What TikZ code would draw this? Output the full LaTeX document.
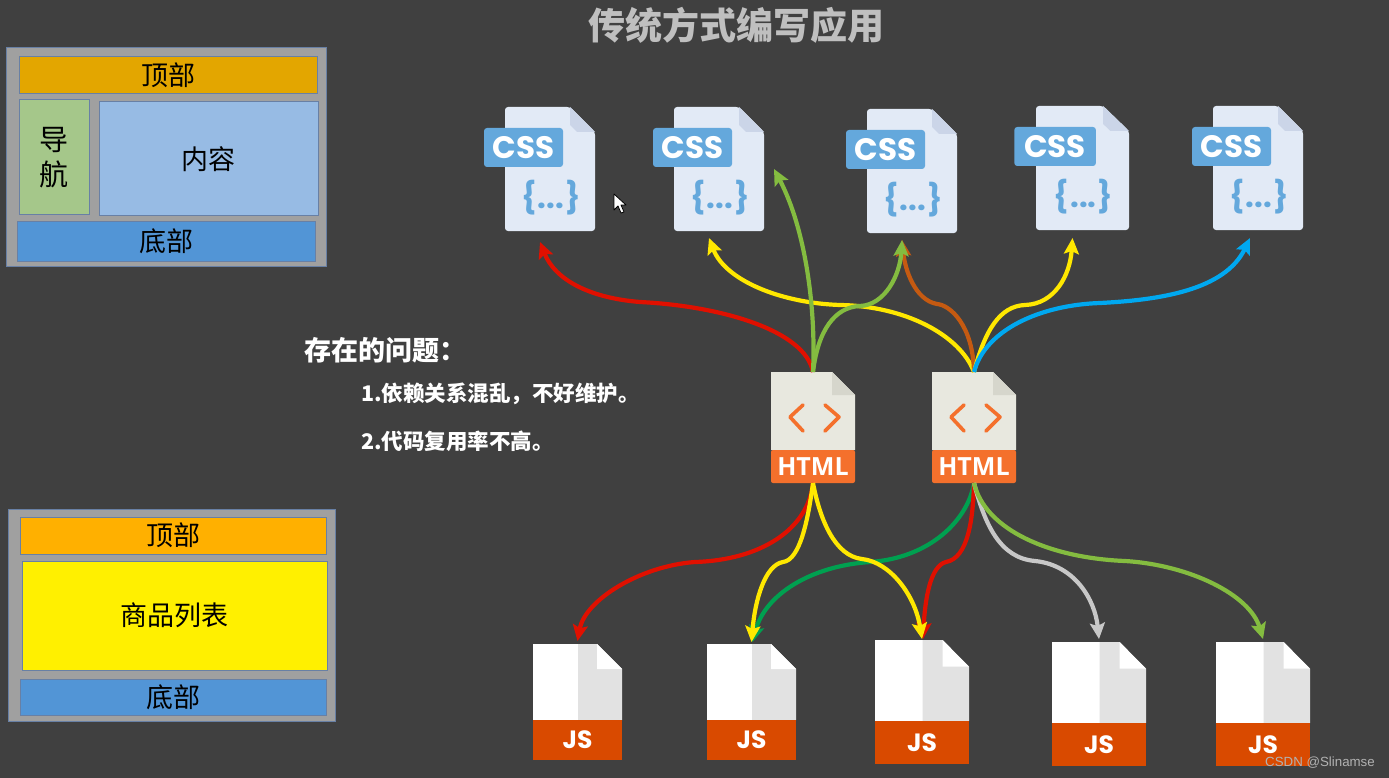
\documentclass[tikz,border=0pt]{standalone}
\usepackage{fontspec}
\setmainfont{Noto Sans CJK SC}
\newfontfamily\iconfont{Poppins}
\newfontfamily\htmlfont{Open Sans}
\newfontfamily\markfont{Liberation Sans}
\usetikzlibrary{arrows.meta, calc}
\definecolor{slide}{RGB}{64,64,64}
\definecolor{panelgray}{RGB}{160,160,160}
\definecolor{panelline}{RGB}{104,128,165}
\definecolor{topdark}{RGB}{227,166,0}
\definecolor{topamber}{RGB}{255,176,0}
\definecolor{navgreen}{RGB}{165,199,138}
\definecolor{mainblue}{RGB}{151,187,228}
\definecolor{footblue}{RGB}{82,149,214}
\definecolor{listyellow}{RGB}{255,240,0}
\definecolor{cssbody}{RGB}{226,234,246}
\definecolor{cssfold}{RGB}{203,213,232}
\definecolor{cssblue}{RGB}{100,168,220}
\definecolor{htmlbody}{RGB}{232,232,223}
\definecolor{htmlfold}{RGB}{214,214,204}
\definecolor{htmlorange}{RGB}{244,112,44}
\definecolor{jsgray}{RGB}{226,226,226}
\definecolor{jsorange}{RGB}{217,74,0}
\definecolor{linkred}{RGB}{224,16,0}
\definecolor{linkyellow}{RGB}{255,232,0}
\definecolor{linkgreen}{RGB}{132,188,64}
\definecolor{linkbrown}{RGB}{197,90,17}
\definecolor{linkblue}{RGB}{0,168,240}
\definecolor{linkdark}{RGB}{0,160,80}
\definecolor{linkgray}{RGB}{200,200,200}
\tikzset{
  block/.style={draw=panelline, line width=1pt, inner sep=0pt, text=black, font=\fontsize{27}{30}\selectfont},
  filebox/.style={inner sep=0pt, outer sep=0pt},
  link/.style={->, line width=4.2pt},
}
% name, left, top, width
\newcommand{\cssfile}[4]{
  \begin{scope}[shift={(#2,#3)}, xscale=#4/90]
    \node[filebox, minimum width=#4pt, minimum height=124pt] (#1) at (45,62) {};
    \fill[cssbody, rounded corners=3pt] (0,0) -- (65,0) -- (90,25) -- (90,124) -- (0,124) -- cycle;
    \fill[cssfold] (65,0) -- (90,25) -- (72,25) -- (65,18) -- cycle;
    \fill[cssblue, rounded corners=3pt] (-21,21) rectangle (58,60);
    \node[text=white, font=\iconfont\bfseries\fontsize{31}{32}\selectfont] (#1tab) at (18.5,41) {CSS};
    \node[text=cssblue, font=\iconfont\bfseries\fontsize{31}{32}\selectfont] (#1code) at (46,91) {\{\kern1pt...\kern1pt\}};
  \end{scope}
}
% name, left, top
\newcommand{\htmlfile}[3]{
  \begin{scope}[shift={(#2,#3)}]
    \node[filebox, minimum width=84pt, minimum height=111pt] (#1) at (42,55.5) {};
    \fill[htmlbody] (0,0) -- (61,0) -- (84,23) -- (84,78) -- (0,78) -- cycle;
    \fill[htmlfold] (61,0) -- (84,23) -- (61,23) -- cycle;
    \fill[htmlorange, rounded corners=2pt] (0,78) -- (84,78) -- (84,111) -- (0,111) -- cycle;
    \draw[htmlorange, line width=3.6pt, line cap=round, line join=round] (32,33) -- (19,45) -- (32,59);
    \draw[htmlorange, line width=3.6pt, line cap=round, line join=round] (54,33) -- (68,45) -- (54,59);
    \node[text=white, font=\htmlfont\bfseries\fontsize{25}{26}\selectfont] (#1label) at (42,95) {HTML};
  \end{scope}
}
% name, left, top, width, height
\newcommand{\jsfile}[5]{
  \begin{scope}[shift={(#2,#3)}, xscale=#4/89, yscale=#5/116]
    \node[filebox, minimum width=#4pt, minimum height=#5pt] (#1) at (44.5,58) {};
    \fill[white] (0,0) rectangle (45,76);
    \fill[jsgray] (45,0) -- (64,0) -- (89,25) -- (89,76) -- (45,76) -- cycle;
    \fill[white] (64,0) -- (89,25) -- (64,25) -- cycle;
    \fill[jsorange] (0,76) rectangle (89,116);
    \node[inner sep=0pt, text=white, font=\iconfont\bfseries\fontsize{25}{26}\selectfont] (#1label) at (44.5,96) {JS};
  \end{scope}
}
\begin{document}
\begin{tikzpicture}[x=1pt, y=-1pt, >={Stealth[length=16pt, width=15pt, inset=3pt]}]
  \fill[slide] (0,0) rectangle (1389,778);
  \useasboundingbox (0,0) rectangle (1389,778);

  \node[text=white!75!black, font=\bfseries\fontsize{37}{39}\selectfont] (title) at (736,25) {传统方式编写应用};

  % first page layout
  \node[block, fill=panelgray, minimum width=320pt, minimum height=218pt] (panela) at (166,157) {};
  \node[block, fill=topdark, minimum width=298pt, minimum height=37pt] (topa) at (168,75.5) {顶部};
  \node[block, fill=navgreen, minimum width=70pt, minimum height=115pt, align=center, font=\fontsize{29}{35}\selectfont] (nav) at (54,157.5) {导\\航};
  \node[block, fill=mainblue, minimum width=219pt, minimum height=114pt] (content) at (208.5,159) {内容};
  \node[block, fill=footblue, minimum width=298pt, minimum height=39pt] (bottoma) at (166,241.5) {底部};

  % second page layout
  \node[block, fill=panelgray, minimum width=327pt, minimum height=212pt] (panelb) at (171.5,615) {};
  \node[block, fill=topamber, minimum width=306pt, minimum height=37pt] (topb) at (173,535.5) {顶部};
  \node[block, fill=listyellow, minimum width=305pt, minimum height=109pt] (goods) at (174.5,615.5) {商品列表};
  \node[block, fill=footblue, minimum width=306pt, minimum height=36pt] (bottomb) at (173,697) {底部};

  % problems
  \node[anchor=west, inner sep=0pt, text=white, font=\bfseries\fontsize{27}{29}\selectfont] (problems) at (304,350) {存在的问题：};
  \node[anchor=west, inner sep=0pt, text=white, font=\bfseries\fontsize{21.5}{23}\selectfont] (problema) at (361,394) {1.依赖关系混乱，不好维护。};
  \node[anchor=west, inner sep=0pt, text=white, font=\bfseries\fontsize{21.5}{23}\selectfont] (problemb) at (361,441) {2.代码复用率不高。};

  \cssfile{cssa}{505}{107}{90}
  \cssfile{cssb}{674}{107}{90}
  \cssfile{cssc}{867}{109}{90}
  \cssfile{cssd}{1036}{106}{93}
  \cssfile{csse}{1213}{106}{90}

  \htmlfile{htmla}{771}{372}
  \htmlfile{htmlb}{932}{372}

  \jsfile{jsa}{533}{644}{89}{116}
  \jsfile{jsb}{707}{644}{89}{116}
  \jsfile{jsc}{875}{640}{94}{124}
  \jsfile{jsd}{1052}{642}{94}{124}
  \jsfile{jse}{1216}{642}{94}{124}

  % links up to the css files
  \draw[link, linkred] (htmla.north) .. controls (805,330) and (720,306) .. (640,302) .. controls (590,298) and (555,280) .. ([xshift=-10pt,yshift=-11pt]cssa.south);
  \draw[link, linkyellow] (htmlb.north) .. controls (960,335) and (905,306) .. (840,305) .. controls (780,303) and (725,280) .. ([xshift=-10pt,yshift=-7pt]cssb.south);
  \draw[link, linkgreen] (htmla.north) .. controls (816,310) and (806,230) .. ([xshift=10pt]cssb.east);
  \draw[link, linkbrown] (htmlb.north) .. controls (973,325) and (950,305) .. (937,304) .. controls (915,300) and (905,270) .. ([xshift=-10pt,yshift=-7pt]cssc.south);
  \draw[link, linkgreen] (htmla.north) .. controls (818,330) and (835,307) .. (860,306) .. controls (885,305) and (900,275) .. ([xshift=-10pt,yshift=-7pt]cssc.south);
  \draw[link, linkyellow] (htmlb.north) .. controls (985,330) and (1000,306) .. (1025,305) .. controls (1055,304) and (1070,275) .. ([xshift=-10pt,yshift=-8pt]cssd.south);
  \draw[link, linkblue] (htmlb.north) .. controls (985,330) and (1040,305) .. (1100,303) .. controls (1160,300) and (1225,290) .. ([xshift=-8pt,yshift=-8pt]csse.south);

  % links down to the js files
  \draw[link, linkred] (htmla.south) .. controls (808,530) and (760,560) .. (695,562) .. controls (640,566) and (585,600) .. ([yshift=3pt]jsa.north);
  \draw[link, linkdark] (htmlb.south) .. controls (968,520) and (930,558) .. (870,562) .. controls (810,566) and (765,595) .. ([xshift=1pt,yshift=2pt]jsb.north);
  \draw[link, linkyellow] (htmla.south) .. controls (808,520) and (800,560) .. (783,562) .. controls (765,565) and (755,600) .. ([yshift=2pt]jsb.north);
  \draw[link, linkred] (htmlb.south) .. controls (973,520) and (968,558) .. (946,562) .. controls (930,566) and (925,600) .. ([xshift=1pt,yshift=1pt]jsc.north);
  \draw[link, linkyellow] (htmla.south) .. controls (820,520) and (835,556) .. (862,559) .. controls (890,562) and (915,595) .. ([yshift=1pt]jsc.north);
  \draw[link, linkgray] (htmlb.south) .. controls (985,525) and (1000,558) .. (1035,561) .. controls (1075,565) and (1095,600) .. ([yshift=3pt]jsd.north);
  \draw[link, linkgreen] (htmlb.south) .. controls (985,530) and (1050,558) .. (1125,561) .. controls (1190,565) and (1250,595) .. ([yshift=3pt]jse.north);

  % mouse pointer
  \filldraw[fill=white, draw=black, line width=0.8pt, line join=round] (614,194) -- (614,210) -- (618,206) -- (621,213) -- (624,212) -- (621,205) -- (626,205) -- cycle;

  \node[anchor=east, inner sep=0pt, text=white!70!black, font=\markfont\fontsize{13.3}{14}\selectfont] (credit) at (1375,763) {CSDN @Slinamse};
\end{tikzpicture}
\end{document}
